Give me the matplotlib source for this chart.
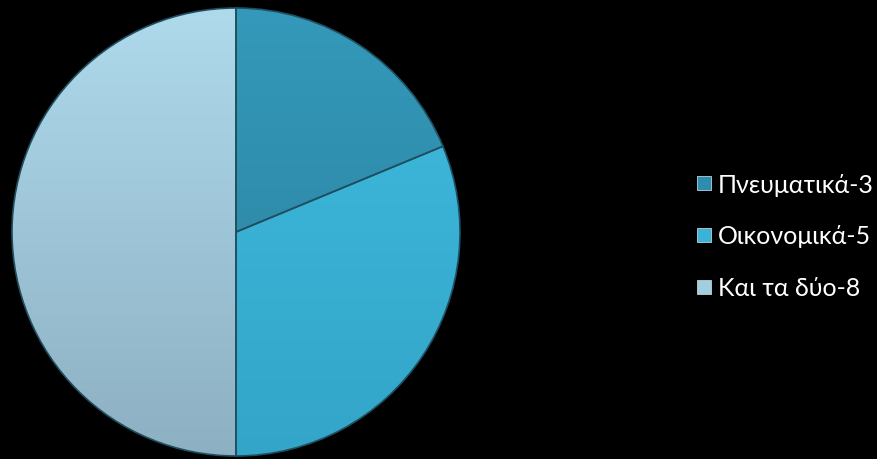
import numpy as np
import matplotlib
matplotlib.use("Agg")
import matplotlib.pyplot as plt
from matplotlib.colors import LinearSegmentedColormap
from matplotlib.lines import Line2D

# data
labels = ["Πνευματικά-3", "Οικονομικά-5", "Και τα δύο-8"]
values = [3, 5, 8]
colors = ["#2E8DAE", "#3AB3D6", "#A2CEE0"]
# top / bottom tones for the soft gradient on each slice
tops = ["#3499BA", "#3FBCE0", "#AEDAEC"]
bottoms = ["#2A7F9C", "#33A5C8", "#8DB0C2"]

plt.rcParams["font.family"] = ["Lato", "DejaVu Sans"]

W, H = 878, 460
R = 224.0
cx, cy = 236.0, 233.0

fig = plt.figure(figsize=(W / 100, H / 100), dpi=100, facecolor="black")
ax = fig.add_axes([0, 0, 1, 1])
ax.set_facecolor("black")

wedges, _ = ax.pie(values, colors=colors, startangle=90, counterclock=False,
                   radius=1.0, wedgeprops=dict(edgecolor="#1f4f60", linewidth=1.2))

# vertical gradient inside each slice
grad = np.linspace(0, 1, 256).reshape(-1, 1)
for w, t, b in zip(wedges, tops, bottoms):
    cmap = LinearSegmentedColormap.from_list("g", [b, t])
    im = ax.imshow(grad, cmap=cmap, extent=[-1, 1, -1, 1], origin="lower",
                   aspect="auto", zorder=w.get_zorder() + 0.1)
    im.set_clip_path(w)
    w.set_zorder(w.get_zorder() + 0.2)
    w.set_facecolor("none")

ax.set_xlim(-cx / R, (W - cx) / R)
ax.set_ylim(-(H - cy) / R, cy / R)
ax.set_aspect("equal", adjustable="box")
ax.axis("off")

handles = [Line2D([], [], marker="s", linestyle="none", markersize=10,
                  markerfacecolor=c, markeredgecolor="#b8d4e0", markeredgewidth=0.6)
           for c in colors]
leg = fig.legend(handles, labels, loc="center left", bbox_to_anchor=(694 / W, 1 - 237 / H),
                 frameon=False, fontsize=18, labelcolor="white", handletextpad=0.15,
                 handlelength=0.8, labelspacing=1.15, borderaxespad=0, borderpad=0)

fig.savefig("out.png", dpi=100, facecolor="black")
